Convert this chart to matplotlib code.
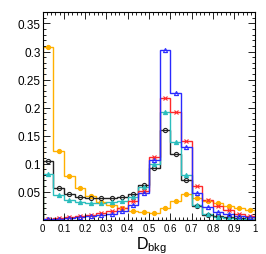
import numpy as np
import matplotlib
matplotlib.use("Agg")
import matplotlib.pyplot as plt
from matplotlib.ticker import MultipleLocator

plt.rcParams['font.family'] = ['Liberation Sans', 'DejaVu Sans']

# 20 bins in D_bkg, 0..1
edges = np.linspace(0.0, 1.0, 21)

orange = [0.308, 0.122, 0.078, 0.057, 0.042, 0.031, 0.027, 0.020, 0.015, 0.013,
          0.012, 0.020, 0.034, 0.045, 0.039, 0.034, 0.029, 0.025, 0.021, 0.018]
black = [0.104, 0.056, 0.045, 0.041, 0.039, 0.038, 0.038, 0.040, 0.046, 0.062,
         0.092, 0.160, 0.117, 0.071, 0.025, 0.009, 0.006, 0.004, 0.003, 0.002]
cyan = [0.081, 0.044, 0.035, 0.032, 0.030, 0.030, 0.031, 0.034, 0.040, 0.058,
        0.100, 0.192, 0.138, 0.080, 0.027, 0.010, 0.004, 0.003, 0.002, 0.001]
red = [0.002, 0.003, 0.005, 0.007, 0.009, 0.012, 0.015, 0.020, 0.033, 0.052,
       0.112, 0.217, 0.192, 0.141, 0.060, 0.035, 0.024, 0.017, 0.010, 0.007]
blue = [0.001, 0.002, 0.003, 0.004, 0.006, 0.008, 0.011, 0.016, 0.027, 0.048,
        0.107, 0.302, 0.226, 0.129, 0.048, 0.023, 0.014, 0.010, 0.007, 0.004]

xticks = [0, 0.1, 0.2, 0.3, 0.4, 0.5, 0.6, 0.7, 0.8, 0.9, 1]
xlabels = ['0', '0.1', '0.2', '0.3', '0.4', '0.5', '0.6', '0.7', '0.8', '0.9', '1']
yticks = [0.05, 0.1, 0.15, 0.2, 0.25, 0.3, 0.35]
ylabels = ['0.05', '0.1', '0.15', '0.2', '0.25', '0.3', '0.35']

series = [
    (orange, '#ffb000', 'o', '#ffb000'),
    (black, '#222222', 'o', 'none'),
    (cyan, '#2bbdbd', '^', '#2bbdbd'),
    (red, '#ff2a2a', 'x', '#ff2a2a'),
    (blue, '#2a2aff', '^', 'none'),
]

fig = plt.figure(figsize=(2.66, 2.55), dpi=100)
ax = fig.add_axes([0.1605, 0.1345, 0.7995, 0.8135])

centers = 0.5 * (edges[:-1] + edges[1:])
for vals, col, mk, fc in series:
    ax.stairs(vals, edges, color=col, lw=1.0)
    ax.plot(centers, vals, linestyle='', marker=mk, ms=3.0, mew=0.8,
            color=col, markerfacecolor=fc)

ax.set_xlim(0, 1)
ax.set_ylim(0, 0.37)
ax.set_xticks(xticks)
ax.set_xticklabels(xlabels)
ax.set_yticks(yticks)
ax.set_yticklabels(ylabels)
ax.xaxis.set_minor_locator(MultipleLocator(0.02))
ax.yaxis.set_minor_locator(MultipleLocator(0.01))
ax.tick_params(which='both', direction='in', top=True, right=True, width=0.6)
ax.tick_params(which='major', length=5)
ax.tick_params(which='minor', length=2.5)
ax.tick_params(axis='x', labelsize=6.9, pad=2.5)
ax.tick_params(axis='y', labelsize=8.5, pad=1.5)
for sp in ax.spines.values():
    sp.set_linewidth(0.8)

fig.text(136.0 / 266, 0.022, r'$\mathregular{D_{bkg}}$', fontsize=11.5,
         ha='left', va='baseline')

fig.savefig('out.png', dpi=100)
